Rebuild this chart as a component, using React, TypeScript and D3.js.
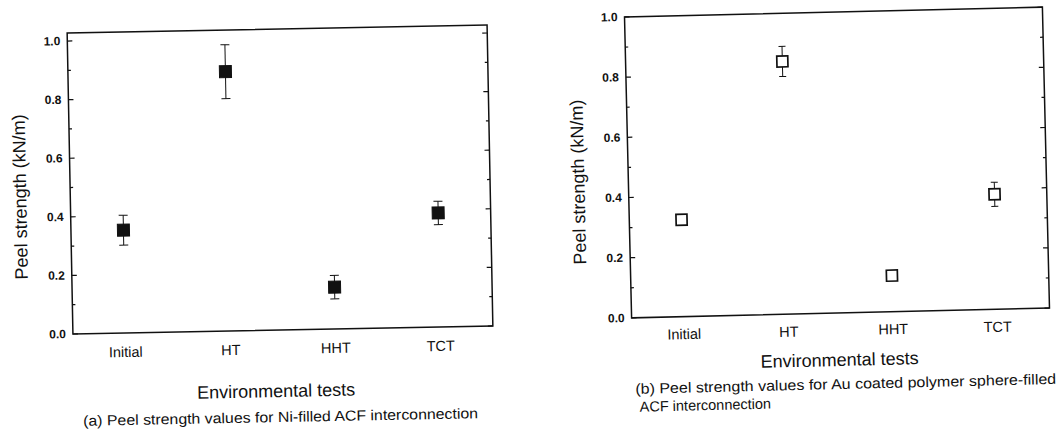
import React from "react";
import * as d3 from "d3";

const categories = ["Initial", "HT", "HHT", "TCT"];
const niValues = [0.351, 0.885, 0.143, 0.389];
const niErrors = [0.051, 0.092, 0.04, 0.04];
const auValues = [0.322, 0.84, 0.12, 0.382];
const auErrors = [0, 0.05, 0, 0.04];
const majorTicks = [0, 0.2, 0.4, 0.6, 0.8, 1.0];
const minorTicks = [0.1, 0.3, 0.5, 0.7, 0.9];
const yAxisTitle = "Peel strength (kN/m)";
const xAxisTitle = "Environmental tests";
const captionA = ["(a) Peel strength values for Ni-filled ACF interconnection"];
const captionB = [
  "(b) Peel strength values for Au coated polymer sphere-filled",
  "ACF interconnection",
];

const FONT = "'Liberation Sans', Arial, Helvetica, sans-serif";

type Cfg = {
  left: number;
  right: number;
  top: number;
  bottom: number;
  y0: number;
  y1: number;
  angle: number;
  catY: number;
  yTitle: [number, number];
  xTitle: [number, number];
  caption: { x: number; y: number; anchor: string; len?: number }[];
  marker: number;
  cap: number;
};

function Panel({
  cfg,
  values,
  errors,
  filled,
  caption,
}: {
  cfg: Cfg;
  values: number[];
  errors: number[];
  filled: boolean;
  caption: string[];
}) {
  const x = d3.scaleLinear().domain([0.5, 4.5]).range([cfg.left, cfg.right]);
  const y = d3.scaleLinear().domain([0, 1]).range([cfg.y0, cfg.y1]);
  const cx = (cfg.left + cfg.right) / 2;
  const cy = (cfg.top + cfg.bottom) / 2;
  const ink = "#111";
  return (
    <g transform={`rotate(${cfg.angle},${cx},${cy})`} fontFamily={FONT} fill={ink}>
      <rect
        x={cfg.left}
        y={cfg.top}
        width={cfg.right - cfg.left}
        height={cfg.bottom - cfg.top}
        fill="none"
        stroke={ink}
        strokeWidth={1.5}
      />
      {majorTicks.map((t) => (
        <g key={"M" + t}>
          <line x1={cfg.left} x2={cfg.left + 5} y1={y(t)} y2={y(t)} stroke={ink} strokeWidth={1.2} />
          <line x1={cfg.right} x2={cfg.right - 5} y1={y(t)} y2={y(t)} stroke={ink} strokeWidth={1.2} />
          <text
            x={cfg.left - 7}
            y={y(t)}
            textAnchor="end"
            dominantBaseline="central"
            fontSize={12}
            fontWeight="bold"
          >
            {d3.format(".1f")(t)}
          </text>
        </g>
      ))}
      {minorTicks.map((t) => (
        <g key={"m" + t}>
          <line x1={cfg.left} x2={cfg.left + 3} y1={y(t)} y2={y(t)} stroke={ink} strokeWidth={1.2} />
          <line x1={cfg.right} x2={cfg.right - 3} y1={y(t)} y2={y(t)} stroke={ink} strokeWidth={1.2} />
        </g>
      ))}
      {categories.map((c, i) => (
        <text key={c} x={x(i + 1)} y={cfg.catY} textAnchor="middle" fontSize={14.5}>
          {c}
        </text>
      ))}
      {values.map((v, i) => {
        const e = errors[i];
        const px = x(i + 1);
        const s = cfg.marker;
        return (
          <g key={"p" + i}>
            {e > 0 && (
              <g stroke={ink} strokeWidth={1}>
                <line x1={px} x2={px} y1={y(v - e)} y2={y(v + e)} />
                <line x1={px - cfg.cap / 2} x2={px + cfg.cap / 2} y1={y(v + e)} y2={y(v + e)} />
                <line x1={px - cfg.cap / 2} x2={px + cfg.cap / 2} y1={y(v - e)} y2={y(v - e)} />
              </g>
            )}
            <rect
              x={px - s / 2}
              y={y(v) - s / 2}
              width={s}
              height={s}
              fill={filled ? ink : "#fff"}
              stroke={ink}
              strokeWidth={filled ? 1 : 1.7}
            />
          </g>
        );
      })}
      <text
        transform={`translate(${cfg.yTitle[0]},${cfg.yTitle[1]}) rotate(-90)`}
        textAnchor="middle"
        fontSize={18}
      >
        {yAxisTitle}
      </text>
      <text x={cfg.xTitle[0]} y={cfg.xTitle[1]} textAnchor="middle" fontSize={18}>
        {xAxisTitle}
      </text>
      {caption.map((line, i) => {
        const c = cfg.caption[i];
        return (
          <text
            key={"c" + i}
            x={c.x}
            y={c.y}
            textAnchor={c.anchor}
            fontSize={14.5}
            textLength={c.len}
            lengthAdjust={c.len ? "spacingAndGlyphs" : undefined}
          >
            {line}
          </text>
        );
      })}
    </g>
  );
}

const leftCfg: Cfg = {
  left: 70,
  right: 490,
  top: 29,
  bottom: 330,
  y0: 330,
  y1: 37,
  angle: -1.1,
  catY: 354,
  yTitle: [26, 192],
  xTitle: [272, 397],
  caption: [{ x: 276, y: 422, anchor: "middle", len: 395 }],
  marker: 12,
  cap: 9,
};

const rightCfg: Cfg = {
  left: 628,
  right: 1046,
  top: 12,
  bottom: 313,
  y0: 313,
  y1: 12,
  angle: -1.35,
  catY: 335.5,
  yTitle: [584, 176],
  xTitle: [835, 366],
  caption: [
    { x: 630, y: 389, anchor: "start", len: 421 },
    { x: 634, y: 407, anchor: "start" },
  ],
  marker: 11,
  cap: 7,
};

export default function App() {
  return (
    <svg
      width={1064}
      height={431}
      style={{ position: "absolute", left: 0, top: 0, background: "#fff" }}
    >
      <rect width={1064} height={431} fill="#fff" />
      <Panel cfg={leftCfg} values={niValues} errors={niErrors} filled={true} caption={captionA} />
      <Panel cfg={rightCfg} values={auValues} errors={auErrors} filled={false} caption={captionB} />
    </svg>
  );
}
